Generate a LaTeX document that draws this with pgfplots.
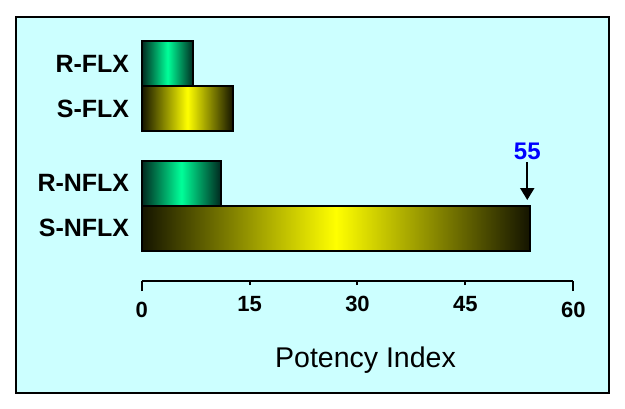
\documentclass[border=0pt]{standalone}
\usepackage{fontspec}
\setmainfont{Liberation Sans}
\usepackage{pgfplots}
\pgfplotsset{compat=1.18}
\usetikzlibrary{arrows.meta}
\definecolor{bgcyan}{HTML}{CCFFFF}
\definecolor{spring}{HTML}{00FF99}
\definecolor{darkgreen}{HTML}{00291F}
\definecolor{darkyel}{HTML}{141400}

% one plot per bar so each bar gets its own gradient
\pgfplotsset{
  shadedbar/.style n args={2}{xbar, bar shift=0pt, bar width=45,
    draw=black, line width=2pt,
    left color=#1, right color=#1, middle color=#2},
  greenbar/.style={shadedbar={darkgreen}{spring}},
  yellowbar/.style={shadedbar={darkyel}{yellow}},
}

\begin{document}
\begin{tikzpicture}
% page and frame, 1pt = 1px of the reference
\path[fill=white] (0,0) rectangle (625pt,-408pt);
\filldraw[fill=bgcyan, draw=black, line width=2pt] (16pt,-17pt) rectangle (609pt,-393pt);
\begin{axis}[
    at={(141.7pt,-281pt)}, anchor=south west,
    scale only axis, width=431.6pt, height=261pt,
    xmin=0, xmax=60, ymin=0, ymax=261,
    clip=false,
    axis x line*=bottom, axis y line*=left,
    y axis line style={draw=none},
    x axis line style={line width=2pt, -},
    xtick={15,30,45},
    extra x ticks={0,60},
    extra x tick style={major tick length=10pt},
    major tick length=4pt,
    xtick align=outside,
    every tick/.style={line width=2pt, black},
    ytick={52.7,97.7,172.5,217.5},
    yticklabels={S-NFLX,R-NFLX,S-FLX,R-FLX},
    ytick style={draw=none},
    yticklabel style={font=\bfseries\fontsize{25}{25}\selectfont, anchor=east, xshift=-9pt},
    xticklabel style={font=\bfseries\fontsize{22}{22}\selectfont, yshift=-8pt},
    /pgf/number format/assume math mode=true,
    xlabel={Potency Index},
    xlabel style={font=\fontsize{28.5}{28.5}\selectfont, xshift=8pt, yshift=-14pt},
]
% R-FLX, S-FLX, R-NFLX, S-NFLX (x = potency index, y = bar centre)
\addplot[greenbar]  coordinates {(7.2,217.5)};
\addplot[yellowbar] coordinates {(12.7,172.5)};
\addplot[greenbar]  coordinates {(11.0,97.7)};
\addplot[yellowbar] coordinates {(54.0,52.7)};
\draw[line width=2pt, -{Triangle[length=12pt,width=14pt]}]
    (axis cs:53.6,119) -- (axis cs:53.6,81);
\node[text=blue, font=\bfseries\fontsize{24}{24}\selectfont]
    at (axis cs:53.6,130) {55};
\end{axis}
\end{tikzpicture}
\end{document}
